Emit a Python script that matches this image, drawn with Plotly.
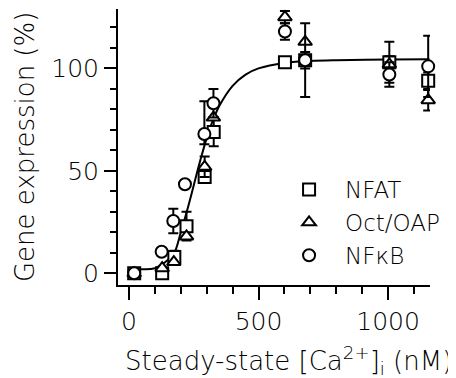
import plotly.graph_objects as go

# ---- data ----
nfat_x = [20, 128, 175, 222, 292, 327, 602, 680, 1005, 1155]
nfat_y = [0, 0, 8, 23, 47, 69, 103, 104, 103, 94]
nfat_e = [0, 0, 3, 7, 0, 7, 0, 4, 10, 4]

oct_x = [20, 128, 173, 222, 292, 326, 602, 680, 1005, 1155]
oct_y = [0, 2.5, 5.5, 18, 52, 76, 125, 113, 102, 84.5]
oct_e = [0, 0, 0, 0, 5, 0, 3, 0, 4, 5]

nfkb_x = [20, 126, 171, 216, 291, 326, 602, 680, 1005, 1155]
nfkb_y = [0, 10.5, 25.5, 43.5, 68, 83, 118, 104, 97, 101]
nfkb_ep = [0, 0, 6, 0, 16, 7, 4, 18, 6, 15]
nfkb_em = [0, 0, 6, 0, 5, 7, 4, 18, 6, 15]

fit_x = [0, 50, 100, 150, 175, 200, 225, 250, 275, 300, 325, 350, 400, 450, 500, 600, 700, 800, 1000, 1160]
fit_y = [2, 2, 2.5, 6.5, 10, 20, 31, 43, 55, 66, 75, 82, 91.5, 97, 100, 102.7, 103.6, 104, 104.4, 104.5]

x_ticks = [0, 500, 1000]
y_ticks = [0, 50, 100]
x_title = "Steady-state [Ca<sup>2+</sup>]<sub>i</sub> (nM)"
y_title = "Gene expression (%)"

FONT = "DejaVu Sans"
W = 200
fig = go.Figure()

fig.add_trace(go.Scatter(x=fit_x, y=fit_y, mode="lines", line=dict(color="black", width=2, shape="spline"),
                         showlegend=False, hoverinfo="skip"))

def add(name, x, y, sym, ep, em=None):
    ed = dict(type="data", array=ep, color="black", thickness=2, width=5, visible=True)
    if em is not None:
        ed["symmetric"] = False
        ed["arrayminus"] = em
    fig.add_trace(go.Scatter(x=x, y=y, mode="markers", name=name, error_y=ed, cliponaxis=False,
                             marker=dict(symbol=sym, size=12, color="white",
                                         line=dict(color="black", width=2))))

add("NFAT", nfat_x, nfat_y, "square", nfat_e)
add("Oct/OAP", oct_x, oct_y, "triangle-up", oct_e)
add("NF\u03baB", nfkb_x, nfkb_y, "circle", nfkb_ep, nfkb_em)

tickfont = dict(family=FONT, size=25, color="black", weight=W)
axis_common = dict(showline=True, linecolor="black", linewidth=2, ticks="outside", tickcolor="black",
                   tickwidth=2, showgrid=False, zeroline=False, tickfont=tickfont,
                   mirror=False, automargin=False)

fig.update_xaxes(range=[-42.5, 1162], tickvals=x_ticks, ticklen=13,
                 minor=dict(dtick=100, tick0=0, ticklen=7, tickwidth=2, tickcolor="black", ticks="outside"),
                 **axis_common)
fig.update_yaxes(range=[-5.7, 129], tickvals=y_ticks, ticklen=12,
                 minor=dict(dtick=10, tick0=0, ticklen=6, tickwidth=2, tickcolor="black", ticks="outside"),
                 **axis_common)

fig.add_annotation(text=y_title, xref="paper", yref="paper", x=-0.298, y=0.5, textangle=-90,
                   xanchor="center", yanchor="middle", showarrow=False,
                   font=dict(family=FONT, size=26, color="black", weight=W))
fig.add_annotation(text=x_title, xref="paper", yref="paper", x=0.548, y=-0.272,
                   xanchor="center", yanchor="middle", showarrow=False,
                   font=dict(family=FONT, size=26, color="black", weight=W))

fig.update_layout(width=456, height=378, margin=dict(l=110, r=34, t=1, b=101),
                  plot_bgcolor="white", paper_bgcolor="white",
                  font=dict(family=FONT, color="black", weight=W),
                  legend=dict(x=0.497, y=0.424, xanchor="left", yanchor="top", bgcolor="rgba(0,0,0,0)",
                              itemwidth=62,
                              font=dict(family=FONT, size=23, weight=W), tracegroupgap=0))

fig.write_html("out.html")
